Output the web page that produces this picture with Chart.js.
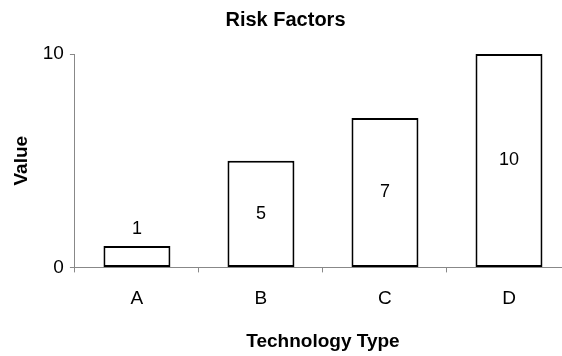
<!DOCTYPE html>
<html lang="en">
<head>
    <meta charset="UTF-8">
    <title>Risk Factors</title>
    <style>
        html, body { margin: 0; padding: 0; background: #fff; overflow: hidden; }
        #wrap { width: 571px; height: 356px; }
    </style>
</head>
<body>
<div id="wrap">
    <canvas id="risk-chart"></canvas>
</div>

<script src="https://cdn.jsdelivr.net/npm/chart.js@4.4.1/dist/chart.umd.min.js"></script>
<script>
    // Chart data
    const categories = ['A', 'B', 'C', 'D'];
    const riskValues = [1, 5, 7, 10];
    const yTicks = [0, 10];

    const fontFamily = '"Liberation Sans", Arial, Helvetica, sans-serif';

    // Draws the value in the middle of each bar, or above it when the bar is too short
    const barValueLabels = {
        id: 'barValueLabels',
        afterDatasetsDraw(chart) {
            const ctx = chart.ctx;
            const meta = chart.getDatasetMeta(0);
            ctx.save();
            ctx.font = '18px ' + fontFamily;
            ctx.fillStyle = '#000';
            ctx.textAlign = 'center';
            ctx.textBaseline = 'middle';
            meta.data.forEach((bar, i) => {
                const height = bar.base - bar.y;
                const y = height > 40 ? bar.y + height / 2 : bar.y - 17;
                ctx.fillText(String(riskValues[i]), bar.x, y);
            });
            ctx.restore();
        }
    };

    new Chart(document.getElementById('risk-chart'), {
        type: 'bar',
        data: {
            labels: categories,
            datasets: [{
                data: riskValues,
                backgroundColor: '#ffffff',
                borderColor: '#000000',
                borderWidth: 2,
                borderSkipped: false,
                barPercentage: 0.54,
                categoryPercentage: 1
            }]
        },
        options: {
            responsive: true,
            maintainAspectRatio: false,
            animation: false,
            layout: { padding: { left: 0, right: 0, top: 0, bottom: 3 } },
            plugins: {
                legend: { display: false },
                tooltip: { enabled: false },
                title: {
                    display: true,
                    text: 'Risk Factors',
                    color: '#000',
                    font: { family: fontFamily, size: 20, weight: 'bold' },
                    padding: { top: 8, bottom: 22 }
                }
            },
            scales: {
                x: {
                    border: { display: true, color: '#888', width: 1 },
                    grid: { drawOnChartArea: false, drawTicks: true, tickLength: 5, color: '#888', offset: true },
                    ticks: { color: '#000', font: { family: fontFamily, size: 19 }, padding: 15 },
                    title: {
                        display: true,
                        text: 'Technology Type',
                        color: '#000',
                        font: { family: fontFamily, size: 19, weight: 'bold' },
                        padding: { top: 5, bottom: 0 }
                    }
                },
                y: {
                    min: 0,
                    max: 10,
                    afterBuildTicks(scale) {
                        scale.ticks = yTicks.map(v => ({ value: v }));
                    },
                    border: { display: true, color: '#888', width: 1 },
                    grid: { drawOnChartArea: false, drawTicks: true, tickLength: 5, color: '#888' },
                    ticks: { color: '#000', font: { family: fontFamily, size: 19 }, padding: 6 },
                    title: {
                        display: true,
                        text: 'Value',
                        color: '#000',
                        font: { family: fontFamily, size: 19, weight: 'bold' },
                        padding: { top: 10, bottom: 4 }
                    }
                }
            }
        },
        plugins: [barValueLabels]
    });
</script>
</body>
</html>
